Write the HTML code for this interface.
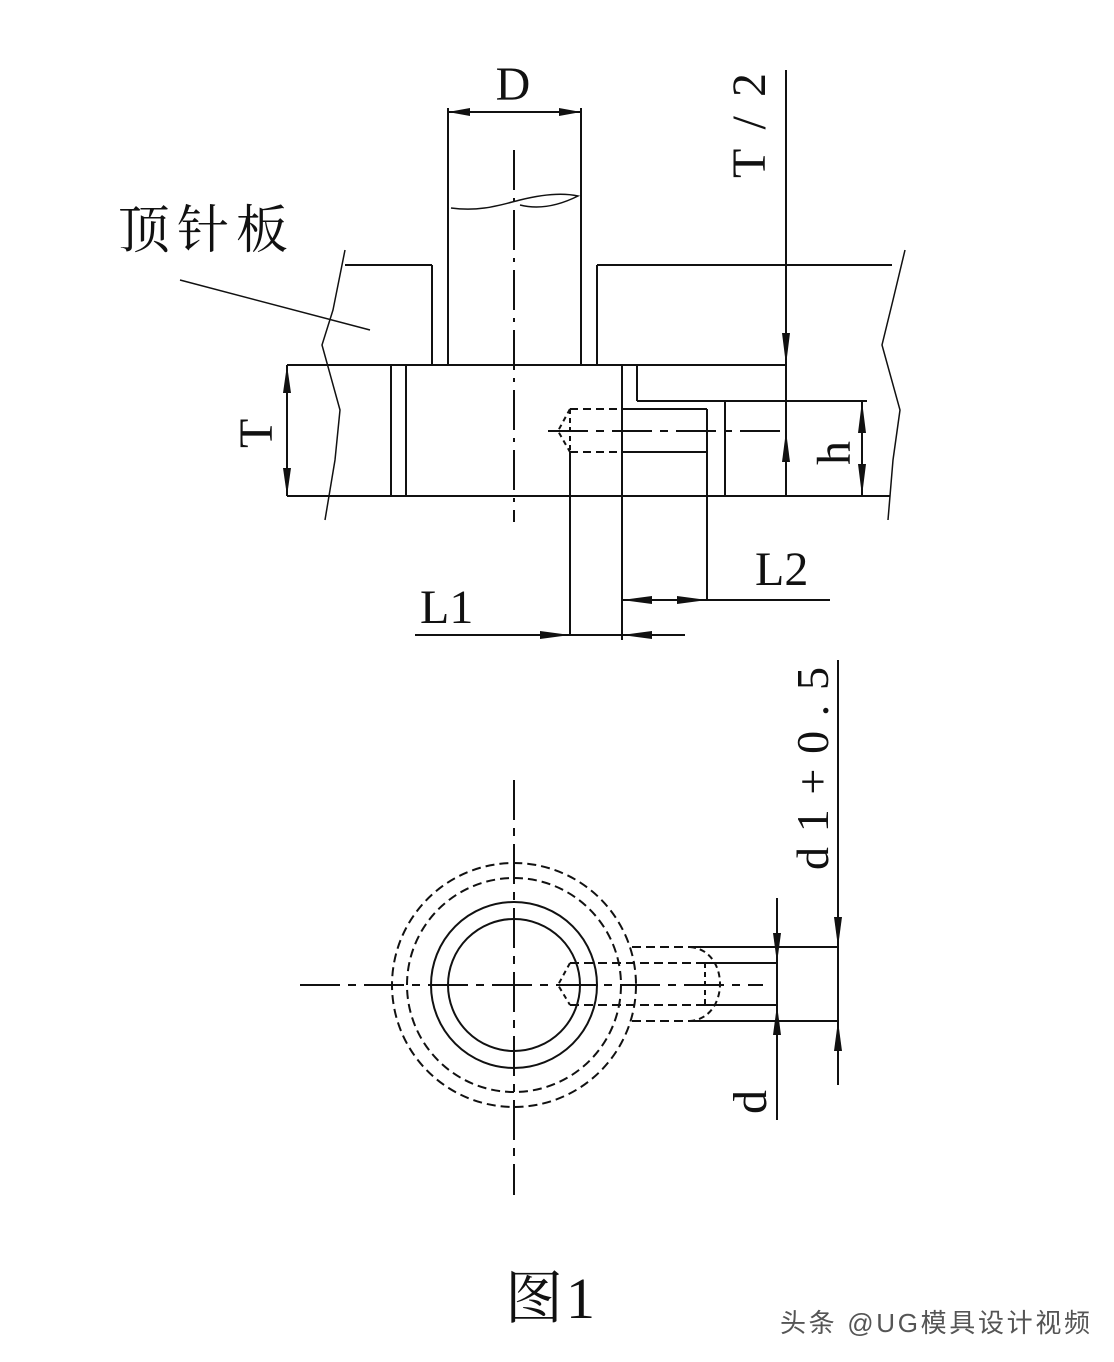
<!DOCTYPE html>
<html><head><meta charset="utf-8"><style>
html,body{margin:0;padding:0;background:#fff;}
svg{display:block;}
text{font-family:"Liberation Serif","Noto Serif CJK SC",serif;fill:#111;}
</style></head><body>
<svg width="1114" height="1362" viewBox="0 0 1114 1362" xmlns="http://www.w3.org/2000/svg">
<g stroke="#111" stroke-width="2" fill="none">
<line x1="448" y1="108" x2="448" y2="365"/>
<line x1="581" y1="108" x2="581" y2="365"/>
<path d="M451 208 C480 212 500 205 520 200 C540 195 560 192 578 196 C560 205 540 210 520 205" stroke-width="1.5"/>
<line x1="514" y1="150" x2="514" y2="522" stroke-dasharray="40,8,4,8"/>
<line x1="345" y1="265" x2="432" y2="265"/>
<line x1="597" y1="265" x2="892" y2="265"/>
<line x1="432" y1="265" x2="432" y2="365"/>
<line x1="597" y1="265" x2="597" y2="365"/>
<line x1="287" y1="365" x2="786" y2="365"/>
<line x1="287" y1="496" x2="890" y2="496"/>
<line x1="391" y1="365" x2="391" y2="496"/>
<line x1="406" y1="365" x2="406" y2="496"/>
<line x1="622" y1="365" x2="622" y2="640"/>
<line x1="637" y1="365" x2="637" y2="401"/>
<line x1="637" y1="401" x2="867" y2="401"/>
<line x1="725" y1="401" x2="725" y2="496"/>
<line x1="570" y1="409" x2="622" y2="409" stroke-dasharray="8,5"/>
<line x1="570" y1="452" x2="622" y2="452" stroke-dasharray="8,5"/>
<line x1="622" y1="409" x2="707" y2="409"/>
<line x1="622" y1="452" x2="707" y2="452"/>
<path d="M570 409 L558 431 L570 452" stroke-dasharray="5,4"/>
<line x1="570" y1="409" x2="570" y2="452" stroke-dasharray="5,4"/>
<line x1="548" y1="431" x2="786" y2="431" stroke-dasharray="40,8,8,8"/>
<line x1="707" y1="409" x2="707" y2="600"/>
<line x1="570" y1="452" x2="570" y2="635"/>
<path d="M345 250 L333 310 L322 345 L340 410 L335 460 L325 520" stroke-width="1.5"/>
<path d="M905 250 L893 300 L882 345 L900 410 L893 460 L888 520" stroke-width="1.5"/>
<line x1="180" y1="280" x2="370" y2="330" stroke-width="1.5"/>
<line x1="448" y1="112" x2="581" y2="112"/>
<line x1="786" y1="70" x2="786" y2="496"/>
<line x1="287" y1="365" x2="287" y2="496"/>
<line x1="862" y1="401" x2="862" y2="496"/>
<line x1="622" y1="600" x2="830" y2="600"/>
<line x1="415" y1="635" x2="685" y2="635"/>
<line x1="300" y1="985" x2="763" y2="985" stroke-dasharray="40,8,8,8"/>
<line x1="514" y1="780" x2="514" y2="1195" stroke-dasharray="40,8,8,8"/>
<circle cx="514" cy="985" r="66"/>
<circle cx="514" cy="985" r="83"/>
<circle cx="514" cy="985" r="107" stroke-dasharray="9,5"/>
<circle cx="514" cy="985" r="122" stroke-dasharray="9,5"/>
<line x1="632" y1="947" x2="690" y2="947" stroke-dasharray="9,5"/>
<line x1="632" y1="1021" x2="690" y2="1021" stroke-dasharray="9,5"/>
<path d="M690 947 C730 950 730 1018 690 1021" stroke-dasharray="6,4"/>
<line x1="690" y1="947" x2="838" y2="947"/>
<line x1="690" y1="1021" x2="838" y2="1021"/>
<line x1="570" y1="963" x2="705" y2="963" stroke-dasharray="9,5"/>
<line x1="570" y1="1005" x2="705" y2="1005" stroke-dasharray="9,5"/>
<path d="M570 963 L558 985 L570 1005" stroke-dasharray="5,4"/>
<line x1="705" y1="963" x2="705" y2="1005" stroke-dasharray="5,4"/>
<line x1="705" y1="963" x2="777" y2="963"/>
<line x1="705" y1="1005" x2="777" y2="1005"/>
<line x1="777" y1="898" x2="777" y2="1120"/>
<line x1="838" y1="660" x2="838" y2="1085"/>
</g>
<g fill="#111">
<polygon points="448,112 470,108 470,116"/>
<polygon points="581,112 559,108 559,116"/>
<polygon points="570,635 540,631 540,639"/>
<polygon points="622,635 652,631 652,639"/>
<polygon points="622,600 652,596 652,604"/>
<polygon points="707,600 677,596 677,604"/>
<polygon points="786,365 782,333 790,333"/>
<polygon points="786,431 782,462 790,462"/>
<polygon points="287,365 283,393 291,393"/>
<polygon points="287,496 283,468 291,468"/>
<polygon points="862,401 858,433 866,433"/>
<polygon points="862,496 858,464 866,464"/>
<polygon points="777,963 773,933 781,933"/>
<polygon points="777,1005 773,1035 781,1035"/>
<polygon points="838,947 834,917 842,917"/>
<polygon points="838,1021 834,1051 842,1051"/>
</g>
<text x="513" y="100" font-size="48" text-anchor="middle">D</text>
<text x="118" y="248" font-size="52" textLength="170" lengthAdjust="spacing">顶针板</text>
<text transform="translate(765,178) rotate(-90)" font-size="48" textLength="105" lengthAdjust="spacing">T/2</text>
<text transform="translate(272,448) rotate(-90)" font-size="48">T</text>
<text transform="translate(850,465) rotate(-90)" font-size="48">h</text>
<text x="755" y="585" font-size="48">L2</text>
<text x="420" y="623" font-size="48">L1</text>
<text transform="translate(828,870) rotate(-90)" font-size="46" textLength="203" lengthAdjust="spacing">d1+0.5</text>
<text transform="translate(766,1114) rotate(-90)" font-size="48">d</text>
<text x="505" y="1318" font-size="58" textLength="90" lengthAdjust="spacing">图1</text>
<text x="780" y="1332" font-size="26" textLength="310" lengthAdjust="spacing" style="font-family:'Liberation Sans','Noto Sans CJK SC',sans-serif;fill:#555">头条 @UG模具设计视频</text>
</svg>
</body></html>
